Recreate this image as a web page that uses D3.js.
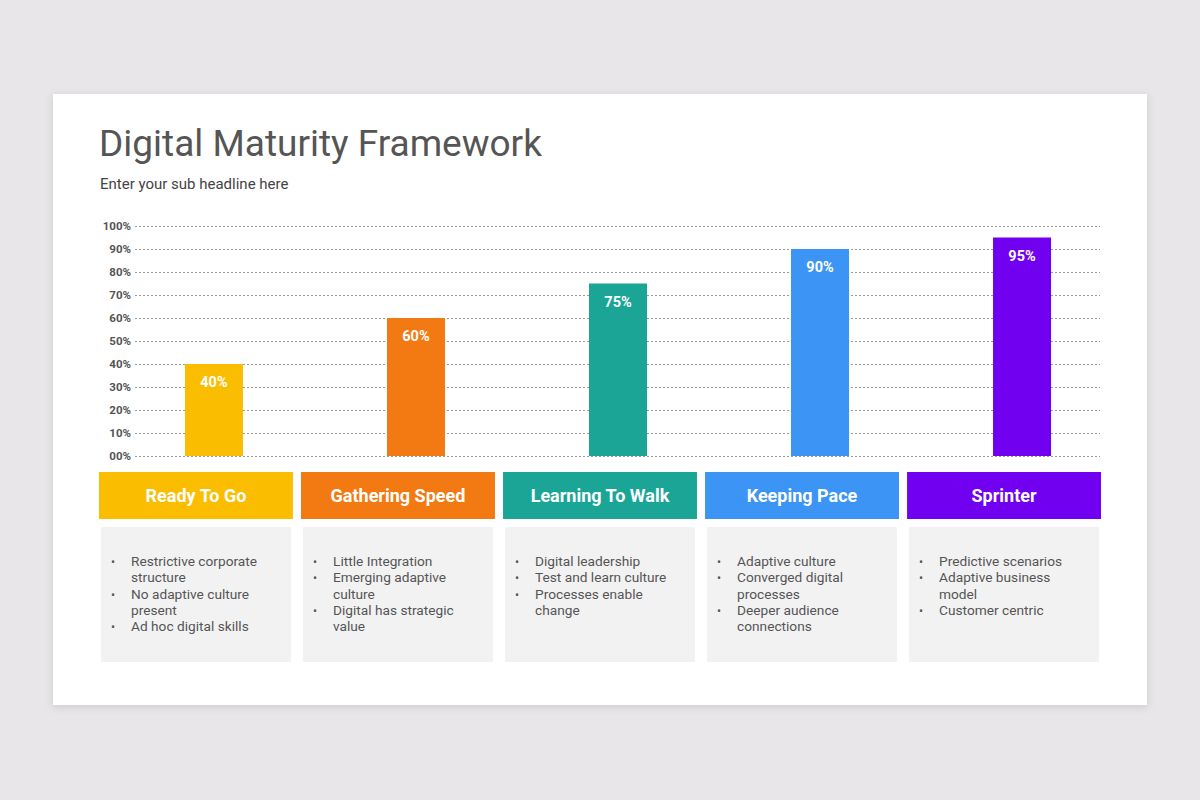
<!DOCTYPE html>
<html>
<head>
<meta charset="utf-8">
<script src="https://cdn.jsdelivr.net/npm/d3@7"></script>
<style>
  body { margin: 0; background: #e8e6e8; font-family: Roboto, "Noto Sans", sans-serif; }
  .grid line { stroke: #9a9a9a; stroke-dasharray: 2 2; }
  .grid path { display: none; }
  .grid text { font-size: 11.5px; font-weight: 700; fill: #555; font-family: Roboto, sans-serif; }
</style>
</head>
<body>
<svg id="chart" width="1200" height="800"></svg>
<script>
// stages of the framework
const stages = ["Ready To Go", "Gathering Speed", "Learning To Walk", "Keeping Pace", "Sprinter"]
const maturity = [40, 60, 75, 90, 95]
const yTicks = [0, 10, 20, 30, 40, 50, 60, 70, 80, 90, 100]
const bullets = [
  [["Restrictive corporate", "structure"], ["No adaptive culture", "present"], ["Ad hoc digital skills"]],
  [["Little Integration"], ["Emerging adaptive", "culture"], ["Digital has strategic", "value"]],
  [["Digital leadership"], ["Test and learn culture"], ["Processes enable", "change"]],
  [["Adaptive culture"], ["Converged digital", "processes"], ["Deeper audience", "connections"]],
  [["Predictive scenarios"], ["Adaptive business", "model"], ["Customer centric"]]
]
const palette = ["#fbbd00", "#f37a12", "#1aa597", "#3c94f4", "#7200f0"]

const svg = d3.select("#chart")

// card with soft shadow
const defs = svg.append("defs")
const shadow = defs.append("filter").attr("id", "shadow")
  .attr("x", "-5%").attr("y", "-5%").attr("width", "110%").attr("height", "115%")
shadow.append("feDropShadow")
  .attr("dx", 0).attr("dy", 2).attr("stdDeviation", 4)
  .attr("flood-color", "#000").attr("flood-opacity", 0.12)

svg.append("rect")
  .attr("x", 53).attr("y", 94)
  .attr("width", 1094).attr("height", 611)
  .attr("fill", "#fff")
  .attr("filter", "url(#shadow)")

// titles
svg.append("text")
  .attr("x", 99).attr("y", 156)
  .attr("font-size", 37).attr("font-weight", 400)
  .attr("fill", "#555")
  .text("Digital Maturity Framework")

svg.append("text")
  .attr("x", 100).attr("y", 189)
  .attr("font-size", 15)
  .attr("fill", "#444")
  .text("Enter your sub headline here")

// scales
const x = d3.scaleBand()
  .domain(stages)
  .range([99, 1101])
  .paddingInner(0.04)

// bars sit a little right of the header centres
const xBar = x.copy().range([117, 1119])

const y = d3.scaleLinear()
  .domain([0, 100])
  .range([456, 226])

const barWidth = 58

// grid + axis labels
svg.append("g")
  .attr("class", "grid")
  .attr("transform", "translate(135,0)")
  .call(d3.axisLeft(y)
    .tickValues(yTicks)
    .tickSize(-965)
    .tickPadding(4)
    .tickFormat(d => (d < 10 ? "0" + d : d) + "%"))

// bars
svg.selectAll(".bar")
  .data(maturity)
  .join("rect")
  .attr("class", "bar")
  .attr("x", (d, i) => xBar(stages[i]) + xBar.bandwidth() / 2 - barWidth / 2)
  .attr("y", d => y(d))
  .attr("width", barWidth)
  .attr("height", d => y(0) - y(d))
  .attr("fill", (d, i) => palette[i])

svg.selectAll(".bar-label")
  .data(maturity)
  .join("text")
  .attr("class", "bar-label")
  .attr("x", (d, i) => xBar(stages[i]) + xBar.bandwidth() / 2)
  .attr("y", d => y(d) + 23)
  .attr("text-anchor", "middle")
  .attr("font-size", 14.5).attr("font-weight", 700)
  .attr("fill", "#fff")
  .text(d => d + "%")

// header boxes
const head = svg.selectAll(".head")
  .data(stages)
  .join("g")
  .attr("class", "head")
  .attr("transform", d => `translate(${x(d)},472)`)

head.append("rect")
  .attr("width", x.bandwidth())
  .attr("height", 47)
  .attr("fill", (d, i) => palette[i])

head.append("text")
  .attr("x", x.bandwidth() / 2)
  .attr("y", 30)
  .attr("text-anchor", "middle")
  .attr("font-size", 18).attr("font-weight", 700)
  .attr("fill", "#fff")
  .text(d => d)

// description boxes
const desc = svg.selectAll(".desc")
  .data(stages)
  .join("g")
  .attr("class", "desc")
  .attr("transform", d => `translate(${x(d) + 2},527)`)

desc.append("rect")
  .attr("width", x.bandwidth() - 4)
  .attr("height", 135)
  .attr("fill", "#f2f2f2")

const lineH = 16.3
desc.each(function (d, i) {
  const g = d3.select(this)
  let row = 0
  bullets[i].forEach(item => {
    g.append("text")
      .attr("x", 10).attr("y", 39 + row * lineH)
      .attr("font-size", 12).attr("fill", "#555")
      .text("•")
    item.forEach(line => {
      g.append("text")
        .attr("x", 30).attr("y", 39 + row * lineH)
        .attr("font-size", 13.7).attr("fill", "#555")
        .text(line)
      row++
    })
  })
})
</script>
</body>
</html>
